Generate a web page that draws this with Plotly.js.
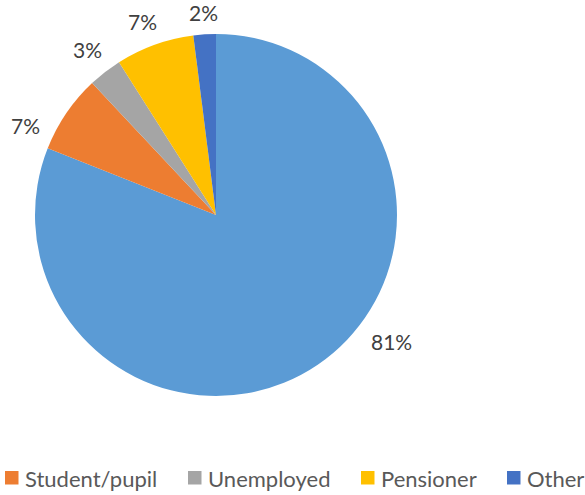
<!DOCTYPE html>
<html>
<head>
<meta charset="utf-8">
<script src="https://cdn.plot.ly/plotly-3.0.1.min.js"></script>
<style>html,body{margin:0;padding:0;background:#fff;}#chart{width:585px;height:495px;}</style>
</head>
<body>
<div id="chart"></div>
<script>
// ---- Data ----
const labels = ["Employed", "Student/pupil", "Unemployed", "Pensioner", "Other"];
const values = [81, 7, 3, 7, 2];
const colors = ["#5B9BD5", "#ED7D31", "#A5A5A5", "#FFC000", "#4472C4"];

// ---- Layout / placement settings (not data) ----
const W = 585, H = 495;
const cx = 216, cy = 215, r = 181;          // pie centre and radius in px
const labelAngleShift = [-20, -9, 0, -1, 0]; // Excel "best fit" nudges (degrees)
const labelGap = 14;
const labelFontSize = 21;
const legendFontSize = 22;
const legendSwatchX = [5, 188, 361, 507];  // px, left edge of each legend entry
const legendY = 478;                        // px, legend row centre

const px2x = p => p / W;
const px2y = p => (H - p) / H;

const dom = {
  x: [px2x(cx - r), px2x(cx + r)],
  y: [px2y(cy + r), px2y(cy - r)]
};

const mainTrace = {
  type: "pie",
  labels: labels,
  values: values,
  marker: { colors: colors, line: { width: 0 } },
  sort: false,
  direction: "clockwise",
  rotation: 0,
  textinfo: "none",
  hoverinfo: "label+percent",
  showlegend: false,
  domain: dom
};

// ---- percent labels, placed from the slice angles ----
const total = values.reduce((a, b) => a + b, 0);
const annotations = [];
let cum = 0;
values.forEach((v, i) => {
  const mid = (cum + v / 2) / total * 360;
  cum += v;
  const th = (mid + labelAngleShift[i]) * Math.PI / 180;
  const txt = Math.round(v / total * 100) + "%";
  const w = txt.length * 13.5, h = 15;
  const D = r + labelGap + 0.5 * (w * Math.abs(Math.sin(th)) + h * Math.abs(Math.cos(th)));
  annotations.push({
    xref: "paper", yref: "paper",
    x: px2x(cx + D * Math.sin(th)),
    y: px2y(cy - D * Math.cos(th)),
    xanchor: "center", yanchor: "middle",
    text: txt, showarrow: false,
    font: { family: "Lato, sans-serif", size: labelFontSize, color: "#404040" }
  });
});

// ---- legend (all categories except the first, as in the reference) ----
const shapes = [];
labels.slice(1).forEach((lab, k) => {
  const i = k + 1;
  const x0 = legendSwatchX[k];
  shapes.push({
    type: "rect", xref: "paper", yref: "paper",
    x0: px2x(x0), x1: px2x(x0 + 13.5),
    y0: px2y(legendY + 6.5), y1: px2y(legendY - 7),
    fillcolor: colors[i], line: { width: 0 }
  });
  annotations.push({
    xref: "paper", yref: "paper",
    x: px2x(x0 + 18), y: px2y(legendY),
    xanchor: "left", yanchor: "middle",
    text: lab, showarrow: false,
    font: { family: "Lato, sans-serif", size: legendFontSize, color: "#595959" }
  });
});

const layout = {
  width: W,
  height: H,
  margin: { l: 0, r: 0, t: 0, b: 0 },
  paper_bgcolor: "#ffffff",
  showlegend: false,
  annotations: annotations,
  shapes: shapes
};

Plotly.newPlot("chart", [mainTrace], layout, { displayModeBar: false, staticPlot: true });
</script>
</body>
</html>
